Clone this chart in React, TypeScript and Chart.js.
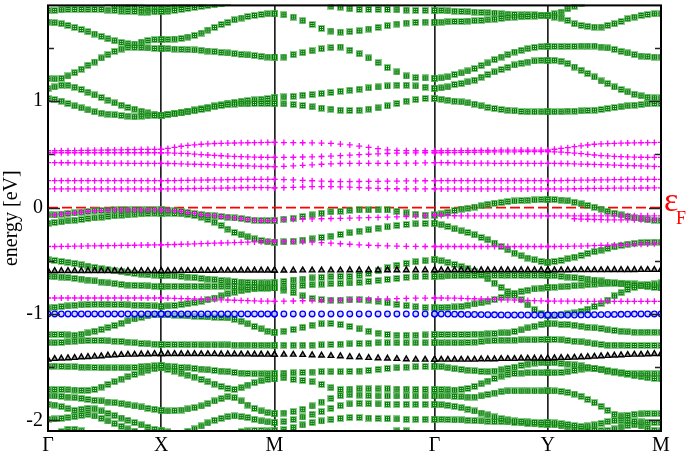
import React, { useEffect, useRef } from 'react';
import { Chart, registerables } from 'chart.js';

Chart.register(...registerables);

// ---- k-path (high-symmetry points) ----
const kTicks = [0, 1, 2, 3.414, 4.414, 5.414];
const kLabels = ['Γ', 'X', 'M', 'Γ', 'Y', 'M'];
const POINTS_PER_SEGMENT = 18;
const yTickValues = [-2, -1, 0, 1];
const yMinorValues = [-1.5, -0.5, 0.5, 1.5];
const _ = null;

// Each band: 5 segments (Γ-X, X-M, M-Γ, Γ-Y, Y-M) x 18 k-points, energies in eV.
// ---- green bands ----
const U1 = [
  1.025, 1.015, 1.0, 0.978, 0.956, 0.937, 0.918, 0.9, 0.887, 0.878, 0.872, 0.865, 0.859, 0.853, 0.859, 0.862, 0.865, 0.868,
  0.868, 0.875, 0.881, 0.89, 0.9, 0.909, 0.922, 0.934, 0.947, 0.959, 0.968, 0.972, 0.975, 0.975, 0.978, 0.978, 0.978, 0.978,
  0.978, 0.975, 0.968, 0.959, 0.947, 0.934, 0.925, 0.915, 0.912, 0.915, 0.925, 0.937, 0.956, 0.978, 1.0, 1.015, 1.025, 1.025,
  1.025, 1.018, 1.009, 1.0, 0.993, 0.984, 0.972, 0.956, 0.94, 0.931, 0.922, 0.915, 0.909, 0.903, 0.9, 0.9, 0.9, 0.9,
  0.9, 0.9, 0.9, 0.906, 0.906, 0.909, 0.912, 0.915, 0.922, 0.931, 0.94, 0.947, 0.956, 0.962, 0.968, 0.975, 0.978, 0.978,
];
const U2 = [
  1.118, 1.134, 1.15, 1.15, 1.131, 1.109, 1.084, 1.059, 1.034, 1.009, 0.984, 0.962, 0.94, 0.925, 0.906, 0.89, 0.878, 0.868,
  0.868, 0.878, 0.887, 0.897, 0.906, 0.919, 0.931, 0.943, 0.956, 0.968, 0.981, 0.99, 1.0, 1.006, 1.012, 1.018, 1.025, 1.031,
  1.031, 1.04, 1.046, 1.056, 1.062, 1.071, 1.081, 1.093, 1.103, 1.112, 1.125, 1.134, 1.143, 1.15, 1.15, 1.143, 1.131, 1.121,
  1.121, 1.125, 1.134, 1.156, 1.165, 1.181, 1.197, 1.225, 1.25, 1.275, 1.297, 1.318, 1.34, 1.356, 1.368, 1.378, 1.384, 1.384,
  1.384, 1.384, 1.375, 1.353, 1.321, 1.29, 1.259, 1.228, 1.19, 1.165, 1.134, 1.109, 1.087, 1.065, 1.05, 1.037, 1.031, 1.031,
];
const U3 = [
  1.212, 1.209, 1.215, 1.237, 1.268, 1.3, 1.337, 1.368, 1.406, 1.437, 1.468, 1.49, 1.506, 1.506, 1.503, 1.5, 1.496, 1.493,
  1.493, 1.493, 1.49, 1.487, 1.484, 1.481, 1.478, 1.471, 1.465, 1.459, 1.453, 1.446, 1.44, 1.434, 1.428, 1.421, 1.415, 1.415,
  1.415, 1.415, 1.437, 1.456, 1.474, 1.493, 1.503, 1.509, 1.478, 1.446, 1.406, 1.362, 1.315, 1.275, 1.237, 1.221, 1.218, 1.215,
  1.215, 1.218, 1.228, 1.25, 1.265, 1.284, 1.306, 1.334, 1.359, 1.39, 1.415, 1.437, 1.462, 1.478, 1.493, 1.506, 1.512, 1.515,
  1.515, 1.515, 1.515, 1.515, 1.515, 1.518, 1.518, 1.518, 1.509, 1.5, 1.487, 1.468, 1.453, 1.437, 1.424, 1.418, 1.415, 1.415,
];
const U4 = [
  1.743, 1.737, 1.728, 1.712, 1.693, 1.674, 1.653, 1.631, 1.609, 1.587, 1.568, 1.553, 1.54, 1.537, 1.556, 1.571, 1.578, 1.581,
  1.581, 1.581, 1.584, 1.59, 1.603, 1.618, 1.64, 1.668, 1.693, 1.721, 1.74, 1.765, 1.781, 1.796, 1.806, 1.815, 1.821, 1.821,
  1.821, 1.812, 1.79, 1.756, 1.721, 1.684, 1.659, 1.649, 1.653, 1.662, 1.678, 1.693, 1.709, 1.725, 1.734, 1.74, 1.743, 1.743,
  1.743, 1.743, 1.746, 1.749, 1.749, 1.753, 1.756, 1.759, 1.765, 1.771, 1.778, 1.784, 1.79, 1.793, 1.796, 1.799, 1.803, 1.803,
  1.803, 1.79, 1.781, 1.759, 1.728, 1.712, 1.703, 1.696, 1.696, 1.712, 1.728, 1.749, 1.775, 1.79, 1.806, 1.815, 1.821, 1.821,
];
const U5 = [
  1.853, 1.853, 1.859, 1.862, 1.862, 1.862, 1.862, 1.862, 1.862, 1.856, 1.853, 1.846, 1.843, 1.843, 1.837, 1.837, 1.84, 1.843,
  1.843, 1.846, 1.853, 1.862, 1.871, 1.881, 1.89, 1.899, 1.906, 1.915, 1.924, _, _, _, _, _, _, _,
  _, _, _, _, _, _, 1.893, 1.884, 1.868, 1.862, 1.862, 1.862, 1.862, 1.859, 1.856, 1.853, 1.853, 1.853,
  1.853, 1.853, 1.849, 1.846, 1.843, 1.84, 1.837, 1.834, 1.831, 1.828, 1.821, 1.818, 1.815, 1.812, 1.812, 1.812, 1.809, 1.809,
  1.809, 1.821, 1.837, 1.868, 1.893, 1.915,
];
const U6 = [
  _, _, _, _, _, _, _, _, _, 1.925, 1.9, 1.896, 1.892, 1.887, 1.88, 1.874, 1.869, 1.866,
  1.866, 1.87, 1.885, 1.905, 1.925,
];
const G1 = [
  -0.069, -0.069, -0.062, -0.056, -0.05, -0.044, -0.037, -0.031, -0.028, -0.025, -0.022, -0.022, -0.022, -0.022, -0.022, -0.022, -0.022, -0.022,
  -0.022, -0.025, -0.031, -0.037, -0.047, -0.056, -0.066, -0.072, -0.078, -0.084, -0.09, -0.097, -0.103, -0.112, -0.119, -0.122, -0.122, -0.122,
  -0.122, -0.109, -0.1, -0.084, -0.069, -0.053, -0.04, -0.035, -0.025, -0.022, -0.022, -0.022, -0.022, -0.035, -0.05, -0.062, -0.072, -0.075,
  -0.069, -0.06, -0.045, -0.028, -0.014, -0.006, 0.005, 0.016, 0.031, 0.041, 0.047, 0.056, 0.062, 0.066, 0.069, 0.072, 0.075, 0.075,
  0.075, 0.075, 0.07, 0.063, 0.05, 0.035, 0.019, 0.003, -0.014, -0.035, -0.053, -0.069, -0.084, -0.097, -0.106, -0.114, -0.119, -0.122,
];
const G2 = [
  -0.147, -0.141, -0.134, -0.125, -0.119, -0.112, -0.103, -0.097, -0.09, -0.084, -0.078, -0.072, -0.069, -0.062, -0.059, -0.056, -0.053, -0.053,
  -0.053, -0.053, -0.056, -0.059, -0.066, -0.075, -0.09, -0.112, -0.137, -0.169, -0.203, -0.234, -0.256, -0.275, -0.294, -0.309, -0.322, -0.325,
  -0.325, -0.322, -0.316, -0.306, -0.294, -0.281, -0.269, -0.253, -0.237, -0.222, -0.209, -0.194, -0.181, -0.169, -0.159, -0.153, -0.15, -0.147,
  -0.147, -0.162, -0.178, -0.2, -0.219, -0.234, -0.256, -0.281, -0.303, -0.334, -0.366, -0.397, -0.428, -0.453, -0.475, -0.491, -0.506, -0.512,
  -0.512, -0.506, -0.497, -0.481, -0.466, -0.45, -0.431, -0.415, -0.4, -0.384, -0.369, -0.356, -0.344, -0.336, -0.33, -0.327, -0.325, -0.325,
];
const G3 = [
  -0.49, -0.497, -0.506, -0.515, -0.525, -0.537, -0.55, -0.562, -0.575, -0.584, -0.594, -0.603, -0.612, -0.619, -0.625, -0.631, -0.634, -0.637,
  -0.637, -0.64, -0.643, -0.647, -0.653, -0.659, -0.665, -0.672, -0.678, -0.684, -0.69, -0.695, -0.7, -0.703, -0.706, -0.708, -0.709, -0.709,
  -0.709, -0.694, -0.681, -0.672, -0.662, -0.656, -0.65, -0.647, -0.647, -0.637, -0.619, -0.594, -0.565, -0.543, -0.525, -0.509, -0.5, -0.49,
  -0.49, -0.5, -0.515, -0.535, -0.555, -0.575, -0.6, -0.63, -0.67, -0.71, -0.75, -0.79, -0.825, -0.865, -0.915, -0.96, -0.995, -1.012,
  -1.012, -1.01, -1.006, -1.0, -0.99, -0.975, -0.955, -0.93, -0.9, -0.87, -0.83, -0.8, -0.77, -0.75, -0.735, -0.725, -0.718, -0.709,
];
const G4 = [
  -0.647, -0.65, -0.653, -0.659, -0.665, -0.672, -0.681, -0.69, -0.7, -0.709, -0.715, -0.722, -0.728, -0.731, -0.734, -0.737, -0.74, -0.74,
  -0.74, -0.74, -0.74, -0.74, -0.74, -0.74, -0.74, -0.74, -0.74, -0.74, -0.74, -0.743, -0.747, -0.75, -0.753, -0.756, -0.756, -0.756,
  -0.756, -0.747, -0.74, -0.731, -0.725, -0.719, -0.715, -0.712, -0.709, -0.703, -0.694, -0.684, -0.675, -0.666, -0.656, -0.65, -0.647, -0.647,
  -0.647, -0.645, -0.643, -0.641, -0.64, -0.639, -0.638, -0.637, -0.637, -0.637, -0.637, -0.637, -0.637, -0.637, -0.637, -0.637, -0.637, -0.637,
  -0.637, -0.64, -0.647, -0.653, -0.659, -0.665, -0.672, -0.681, -0.69, -0.7, -0.709, -0.718, -0.725, -0.731, -0.737, -0.744, -0.75, -0.756,
];
const G6 = [
  -0.943, -0.937, -0.931, -0.925, -0.918, -0.915, -0.912, -0.909, -0.909, -0.909, -0.912, -0.912, -0.915, -0.918, -0.918, -0.922, -0.925, -0.928,
  -0.928, -0.925, -0.92, -0.912, -0.903, -0.893, -0.88, -0.866, -0.85, -0.83, -0.81, -0.795, -0.782, -0.772, -0.765, -0.76, -0.757, -0.756,
  -0.756, -0.775, -0.8, -0.83, -0.855, -0.865, -0.87, -0.87, -0.868, -0.866, -0.87, -0.88, -0.895, -0.91, -0.922, -0.932, -0.94, -0.943,
  -0.943, -0.94, -0.937, -0.934, -0.928, -0.918, -0.906, -0.895, -0.88, -0.865, -0.845, -0.825, -0.805, -0.79, -0.777, -0.765, -0.757, -0.75,
  -0.75, -0.748, -0.745, -0.74, -0.735, -0.73, -0.725, -0.72, -0.718, -0.715, -0.712, -0.712, -0.714, -0.718, -0.725, -0.735, -0.745, -0.756,
];
const G7 = [
  -1.193, -1.193, -1.193, -1.197, -1.2, -1.19, -1.178, -1.162, -1.147, -1.128, -1.109, -1.087, -1.065, -1.047, -1.031, -1.018, -1.009, -1.006,
  -1.006, -1.009, -1.012, -1.015, -1.018, -1.022, -1.025, -1.028, -1.031, -1.034, -1.037, -1.05, -1.068, -1.093, -1.118, -1.14, -1.162, -1.171,
  -1.171, -1.162, -1.147, -1.125, -1.106, -1.093, -1.09, -1.1, -1.118, -1.14, -1.162, -1.181, -1.193, -1.2, -1.2, -1.2, -1.197, -1.193,
  -1.193, -1.193, -1.193, -1.193, -1.193, -1.193, -1.19, -1.19, -1.187, -1.184, -1.178, -1.178, -1.165, -1.15, -1.131, -1.115, -1.1, -1.093,
  -1.093, -1.093, -1.1, -1.1, -1.106, -1.115, -1.125, -1.131, -1.137, -1.15, -1.156, -1.162, -1.168, -1.171, -1.171, -1.171, -1.171, -1.171,
];
const G8 = [
  -1.271, -1.271, -1.268, -1.262, -1.256, -1.253, -1.25, -1.25, -1.25, -1.253, -1.256, -1.259, -1.265, -1.271, -1.278, -1.281, -1.284, -1.287,
  -1.287, -1.287, -1.288, -1.288, -1.289, -1.289, -1.29, -1.29, -1.29, -1.291, -1.291, -1.292, -1.292, -1.292, -1.293, -1.293, -1.293, -1.293,
  -1.293, -1.293, -1.293, -1.293, -1.293, -1.29, -1.287, -1.284, -1.281, -1.278, -1.275, -1.271, -1.271, -1.271, -1.271, -1.271, -1.271, -1.271,
  -1.271, -1.271, -1.271, -1.271, -1.271, -1.268, -1.265, -1.259, -1.253, -1.25, -1.246, -1.246, -1.246, -1.243, -1.243, -1.243, -1.24, -1.24,
  -1.24, -1.24, -1.243, -1.25, -1.256, -1.262, -1.271, -1.281, -1.287, -1.293, -1.293, -1.293, -1.296, -1.296, -1.296, -1.296, -1.296, -1.296,
];
const G9 = [
  -1.49, -1.49, -1.493, -1.496, -1.496, -1.5, -1.5, -1.503, -1.506, -1.506, -1.506, -1.506, -1.506, -1.503, -1.496, -1.49, -1.487, -1.484,
  -1.484, -1.49, -1.496, -1.503, -1.506, -1.512, -1.518, -1.525, -1.531, -1.537, -1.543, -1.55, -1.556, -1.559, -1.562, -1.562, -1.562, -1.562,
  -1.562, -1.556, -1.553, -1.55, -1.546, -1.543, -1.543, -1.543, -1.54, -1.537, -1.531, -1.521, -1.512, -1.506, -1.5, -1.496, -1.493, -1.49,
  -1.49, -1.496, -1.506, -1.515, -1.521, -1.528, -1.534, -1.54, -1.543, -1.537, -1.525, -1.512, -1.5, -1.484, -1.471, -1.462, -1.459, -1.459,
  -1.459, -1.459, -1.465, -1.471, -1.478, -1.487, -1.5, -1.512, -1.525, -1.537, -1.546, -1.553, -1.559, -1.562, -1.562, -1.562, -1.562, -1.562,
];
const G10 = [
  -1.709, -1.709, -1.709, -1.712, -1.715, -1.718, -1.718, -1.709, -1.687, -1.662, -1.637, -1.612, -1.59, -1.568, -1.546, -1.528, -1.515, -1.506,
  -1.506, -1.521, -1.537, -1.556, -1.575, -1.593, -1.615, -1.637, -1.659, -1.681, -1.7, -1.709, -1.693, -1.668, -1.646, -1.628, -1.615, -1.609,
  -1.609, -1.6, -1.615, -1.625, -1.637, -1.662, -1.693, -1.709, -1.706, -1.703, -1.703, -1.703, -1.703, -1.706, -1.706, -1.709, -1.709, -1.709,
  -1.709, -1.709, -1.712, -1.715, -1.709, -1.7, -1.681, -1.656, -1.631, -1.606, -1.584, -1.568, -1.559, -1.556, -1.553, -1.553, -1.553, -1.553,
  -1.553, -1.553, -1.55, -1.543, -1.531, -1.518, -1.512, -1.515, -1.521, -1.531, -1.543, -1.556, -1.568, -1.581, -1.59, -1.6, -1.606, -1.609,
];
const G11 = [
  -1.771, -1.771, -1.774, -1.781, -1.787, -1.793, -1.803, -1.812, -1.818, -1.828, -1.834, -1.843, -1.853, -1.865, -1.874, -1.887, -1.896, -1.906,
  -1.906, -1.912, -1.909, -1.903, -1.893, -1.881, -1.865, -1.843, -1.818, -1.796, -1.778, -1.787, -1.818, -1.856, -1.887, -1.912, -1.928, -1.937,
  -1.937, -1.931, -1.918, -1.896, -1.865, -1.828, -1.793, -1.768, -1.759, -1.762, -1.768, -1.771, -1.771, -1.771, -1.771, -1.771, -1.771, -1.771,
  -1.771, -1.771, -1.771, -1.774, -1.778, -1.781, -1.781, -1.771, -1.756, -1.743, -1.731, -1.724, -1.724, -1.724, -1.724, -1.724, -1.724, -1.724,
  -1.724, -1.724, -1.728, -1.737, -1.753, -1.774, -1.803, -1.834, -1.868, -1.906, -1.943, -1.959, -1.953, -1.943, -1.94, -1.937, -1.937, -1.937,
];
const G12 = [
  -1.849, -1.856, -1.871, -1.89, -1.906, -1.896, -1.887, -1.893, -1.912, -1.934, -1.956, -1.978, -1.999, -2.021, -2.043, -2.065, -2.084, -2.099,
  -2.099, -2.109, _, _, -2.102, -2.081, -2.053, -2.024, -1.999, -1.981, -1.965, -1.959, -1.965, -1.974, -1.99, -2.006, -2.015, -2.021,
  -2.021, -2.012, -1.993, -1.968, -1.943, -1.918, -1.887, -1.862, -1.846, -1.84, -1.843, -1.846, -1.849, -1.849, -1.849, -1.849, -1.849, -1.849,
  -1.849, -1.853, -1.859, -1.868, -1.881, -1.896, -1.912, -1.931, -1.949, -1.968, -1.984, -1.996, -2.006, -2.012, -2.015, -2.018, -2.021, -2.021,
  -2.021, -2.024, -2.031, -2.04, -2.049, -2.056, -2.053, -2.043, -2.028, -2.012, -2.003, -1.999, -2.003, -2.009, -2.015, -2.018, -2.021, -2.021,
];
const G13 = [
  -1.99, -1.987, -1.981, -1.974, -1.965, -1.953, -1.943, -1.959, -1.981, -2.006, -2.031, -2.056, -2.081, -2.102, _, _, _, _,
  _, _, _, _, _, _, _, _, _, _, _, _, -2.106, -2.099, -2.096, -2.096, -2.099, -2.099,
  -2.099, -2.087, -2.068, -2.043, -2.021, -2.006, -1.993, -1.981, -1.974, -1.974, -1.978, -1.981, -1.984, -1.987, -1.99, -1.99, -1.99, -1.99,
  -1.99, -1.99, -1.993, -1.996, -1.996, -1.999, -2.003, -2.006, -2.009, -2.012, -2.012, -2.015, -2.021, -2.024, -2.031, -2.034, -2.037, -2.037,
  -2.037, -2.043, -2.053, -2.062, -2.071, -2.081, -2.087, -2.093, -2.096, -2.096, -2.081, -2.062, -2.049, -2.043, -2.053, -2.074, -2.093, -2.099,
];
const G14 = [
  _, _, -2.106, -2.084, -2.084, -2.099, _, _, _, _, _, _, _, _, _, _, _, _,
  _, _, _, _, _, _, _, _, _, _, _, _, _, _, _, _, _, _,
  _, _, _, _, _, _, _, _, _, _, _, _, _, -2.099, -2.099,
];

// ---- magenta bands ----
const M1 = [
  0.175, 0.175, 0.175, 0.175, 0.175, 0.175, 0.175, 0.175, 0.175, 0.175, 0.175, 0.175, 0.175, 0.175, 0.175, 0.175, 0.175, 0.175,
  0.175, 0.175, 0.176, 0.177, 0.178, 0.179, 0.18, 0.181, 0.182, 0.183, 0.184, 0.185, 0.186, 0.187, 0.188, 0.188, 0.187, 0.185,
  0.185, 0.187, 0.19, 0.193, 0.196, 0.197, 0.197, 0.195, 0.192, 0.188, 0.184, 0.181, 0.178, 0.177, 0.176, 0.175, 0.175, 0.175,
  0.175, 0.175, 0.175, 0.175, 0.175, 0.175, 0.175, 0.175, 0.175, 0.175, 0.175, 0.175, 0.175, 0.175, 0.175, 0.175, 0.175, 0.175,
  0.175, 0.175, 0.175, 0.176, 0.177, 0.178, 0.179, 0.18, 0.181, 0.181, 0.182, 0.182, 0.183, 0.183, 0.184, 0.184, 0.185, 0.185,
];
const M2 = [
  0.253, 0.253, 0.253, 0.253, 0.253, 0.253, 0.253, 0.253, 0.253, 0.253, 0.253, 0.253, 0.253, 0.253, 0.253, 0.253, 0.253, 0.253,
  0.253, 0.253, 0.254, 0.255, 0.256, 0.257, 0.258, 0.259, 0.26, 0.261, 0.262, 0.263, 0.264, 0.265, 0.265, 0.265, 0.265, 0.265,
  0.265, 0.263, 0.26, 0.256, 0.252, 0.248, 0.245, 0.244, 0.244, 0.245, 0.246, 0.247, 0.248, 0.249, 0.25, 0.251, 0.252, 0.253,
  0.253, 0.253, 0.253, 0.253, 0.253, 0.253, 0.253, 0.253, 0.253, 0.253, 0.253, 0.253, 0.253, 0.253, 0.253, 0.253, 0.253, 0.253,
  0.253, 0.253, 0.254, 0.255, 0.256, 0.257, 0.258, 0.259, 0.26, 0.261, 0.262, 0.263, 0.264, 0.265, 0.265, 0.265, 0.265, 0.265,
];
const M3 = [
  0.422, 0.422, 0.421, 0.421, 0.42, 0.42, 0.419, 0.419, 0.418, 0.418, 0.417, 0.417, 0.416, 0.416, 0.415, 0.415, 0.415, 0.415,
  0.415, 0.414, 0.413, 0.411, 0.409, 0.407, 0.405, 0.403, 0.401, 0.399, 0.397, 0.395, 0.393, 0.391, 0.389, 0.387, 0.386, 0.385,
  0.385, 0.388, 0.392, 0.397, 0.402, 0.407, 0.411, 0.414, 0.415, 0.416, 0.416, 0.416, 0.416, 0.416, 0.417, 0.418, 0.42, 0.422,
  0.422, 0.422, 0.421, 0.42, 0.419, 0.418, 0.418, 0.417, 0.417, 0.416, 0.416, 0.416, 0.416, 0.416, 0.415, 0.415, 0.415, 0.415,
  0.415, 0.415, 0.414, 0.413, 0.411, 0.409, 0.407, 0.405, 0.403, 0.401, 0.399, 0.397, 0.395, 0.393, 0.391, 0.389, 0.387, 0.385,
];
const M4 = [
  0.515, 0.515, 0.515, 0.515, 0.515, 0.515, 0.515, 0.515, 0.515, 0.515, 0.515, 0.515, 0.515, 0.515, 0.515, 0.515, 0.515, 0.515,
  0.515, 0.514, 0.512, 0.509, 0.506, 0.502, 0.498, 0.494, 0.49, 0.487, 0.484, 0.481, 0.478, 0.476, 0.474, 0.473, 0.472, 0.472,
  0.472, 0.472, 0.473, 0.475, 0.477, 0.48, 0.484, 0.488, 0.492, 0.497, 0.501, 0.505, 0.508, 0.511, 0.513, 0.514, 0.515, 0.515,
  0.515, 0.515, 0.516, 0.517, 0.518, 0.519, 0.52, 0.521, 0.522, 0.523, 0.523, 0.524, 0.524, 0.525, 0.525, 0.525, 0.525, 0.525,
  0.525, 0.524, 0.521, 0.517, 0.512, 0.506, 0.5, 0.494, 0.489, 0.485, 0.481, 0.478, 0.476, 0.474, 0.473, 0.472, 0.472, 0.472,
];
const M5 = [
  0.534, 0.534, 0.535, 0.535, 0.536, 0.537, 0.538, 0.539, 0.54, 0.541, 0.542, 0.543, 0.544, 0.545, 0.546, 0.547, 0.547, 0.547,
  0.547, 0.556, 0.566, 0.576, 0.584, 0.59, 0.595, 0.599, 0.602, 0.604, 0.606, 0.607, 0.608, 0.609, 0.61, 0.611, 0.612, 0.612,
  0.612, 0.611, 0.61, 0.609, 0.608, 0.606, 0.603, 0.597, 0.589, 0.578, 0.565, 0.553, 0.543, 0.537, 0.535, 0.534, 0.534, 0.534,
  0.534, 0.534, 0.535, 0.535, 0.536, 0.536, 0.537, 0.537, 0.538, 0.538, 0.539, 0.539, 0.54, 0.54, 0.54, 0.54, 0.54, 0.54,
  0.54, 0.548, 0.556, 0.563, 0.572, 0.58, 0.588, 0.595, 0.598, 0.601, 0.603, 0.605, 0.607, 0.608, 0.609, 0.61, 0.611, 0.612,
];
const MN1 = [
  -0.069, -0.069, -0.062, -0.056, -0.05, -0.044, -0.037, -0.031, -0.028, -0.025, -0.022, -0.022, -0.022, -0.022, -0.022, -0.022, -0.022, -0.022,
  -0.022, -0.025, -0.031, -0.037, -0.047, -0.056, -0.066, -0.072, -0.078, -0.084, -0.09, -0.097, -0.103, -0.112, -0.119, -0.122, -0.122, -0.122,
  -0.115, -0.113, -0.111, -0.109, -0.107, -0.105, -0.103, -0.101, -0.099, -0.097, -0.095, -0.093, -0.09, -0.087, -0.084, -0.08, -0.076, -0.072,
  -0.072, -0.074, -0.076, -0.077, -0.078, -0.078, -0.078, -0.078, -0.078, -0.078, -0.078, -0.078, -0.078, -0.078, -0.078, -0.078, -0.078, -0.078,
  -0.078, -0.078, -0.078, -0.078, -0.078, -0.078, -0.078, -0.078, -0.078, -0.078, -0.078, -0.078, -0.078, -0.078, -0.078, -0.078, -0.078, -0.078,
];
const MN2 = [
  _, _, _, _, _, _, _, _, _, _, _, _, _, _, _, _, _, _,
  _, _, _, _, _, _, _, _, _, _, _, _, _, _, _, _, _, _,
  _, _, _, _, _, _, _, _, _, _, _, _, _, _, _, _, _, _,
  _, _, _, _, _, _, _, _, _, _, _, _, _, _, _, _, _, _,
  _, _, _, _, -0.105, -0.108, -0.11, -0.112, -0.114, -0.115, -0.115, -0.115, -0.115, -0.115, -0.115, -0.115, -0.115, -0.115,
];
const MN3 = [
  -0.366, -0.366, -0.365, -0.364, -0.363, -0.362, -0.361, -0.36, -0.359, -0.358, -0.357, -0.356, -0.355, -0.354, -0.353, -0.352, -0.351, -0.35,
  -0.35, -0.349, -0.347, -0.345, -0.343, -0.341, -0.339, -0.337, -0.335, -0.333, -0.331, -0.329, -0.327, -0.325, -0.323, -0.321, -0.32, -0.319,
  -0.319, -0.319, -0.32, -0.322, -0.325, -0.33, -0.335, -0.34, -0.345, -0.35, -0.354, -0.357, -0.36, -0.362, -0.364, -0.365, -0.366, -0.366,
  -0.366, -0.366, -0.366, -0.366, -0.366, -0.366, -0.366, -0.366, -0.366, -0.366, -0.366, -0.366, -0.366, -0.366, -0.366, -0.366, -0.366, -0.366,
  -0.366, -0.366, -0.365, -0.364, -0.363, -0.362, -0.36, -0.358, -0.356, -0.354, -0.352, -0.35, -0.348, -0.346, -0.344, -0.342, -0.34, -0.338,
];
const MN4 = [
  -0.85, -0.85, -0.85, -0.85, -0.85, -0.85, -0.85, -0.85, -0.85, -0.85, -0.85, -0.85, -0.85, -0.85, -0.85, -0.85, -0.85, -0.85,
  -0.85, -0.851, -0.853, -0.855, -0.857, -0.859, -0.861, -0.863, -0.865, -0.867, -0.869, -0.871, -0.873, -0.875, -0.877, -0.879, -0.88, -0.881,
  -0.881, -0.88, -0.878, -0.876, -0.874, -0.872, -0.87, -0.868, -0.866, -0.864, -0.862, -0.86, -0.858, -0.856, -0.854, -0.852, -0.851, -0.85,
  -0.85, -0.85, -0.851, -0.852, -0.853, -0.855, -0.857, -0.859, -0.861, -0.863, -0.865, -0.867, -0.869, -0.871, -0.873, -0.875, -0.877, -0.879,
  -0.879, -0.879, -0.88, -0.88, -0.88, -0.881, -0.881, -0.881, -0.881, -0.881, -0.881, -0.881, -0.881, -0.881, -0.881, -0.881, -0.881, -0.881,
];

// ---- black triangle bands ----
const T1 = [
  -0.595, -0.595, -0.595, -0.595, -0.595, -0.595, -0.595, -0.595, -0.595, -0.595, -0.595, -0.595, -0.595, -0.595, -0.595, -0.595, -0.595, -0.595,
  -0.595, -0.595, -0.595, -0.594, -0.594, -0.594, -0.593, -0.593, -0.593, -0.592, -0.592, -0.592, -0.591, -0.591, -0.59, -0.59, -0.59, -0.59,
  -0.59, -0.59, -0.59, -0.589, -0.589, -0.589, -0.589, -0.589, -0.588, -0.588, -0.588, -0.588, -0.588, -0.588, -0.588, -0.588, -0.588, -0.588,
  -0.588, -0.588, -0.588, -0.588, -0.588, -0.588, -0.588, -0.588, -0.588, -0.588, -0.588, -0.588, -0.588, -0.588, -0.588, -0.588, -0.588, -0.588,
  -0.588, -0.588, -0.588, -0.588, -0.587, -0.587, -0.587, -0.587, -0.587, -0.586, -0.586, -0.586, -0.586, -0.586, -0.585, -0.585, -0.585, -0.585,
];
const T2 = [
  -1.428, -1.421, -1.418, -1.415, -1.412, -1.406, -1.403, -1.4, -1.396, -1.39, -1.387, -1.384, -1.381, -1.381, -1.378, -1.378, -1.375, -1.375,
  -1.375, -1.375, -1.375, -1.376, -1.376, -1.376, -1.377, -1.377, -1.377, -1.378, -1.378, -1.378, -1.379, -1.379, -1.38, -1.38, -1.381, -1.381,
  -1.381, -1.381, -1.381, -1.384, -1.387, -1.39, -1.393, -1.396, -1.403, -1.406, -1.412, -1.415, -1.418, -1.421, -1.425, -1.428, -1.428, -1.428,
  -1.428, -1.428, -1.428, -1.428, -1.428, -1.428, -1.428, -1.425, -1.425, -1.425, -1.421, -1.421, -1.421, -1.418, -1.418, -1.418, -1.418, -1.418,
  -1.418, -1.415, -1.412, -1.412, -1.409, -1.406, -1.403, -1.4, -1.396, -1.393, -1.39, -1.387, -1.384, -1.381, -1.381, -1.378, -1.375, -1.375,
];

// ---- blue circle band ----
const B1 = [
  -1.0, -1.0, -1.0, -1.0, -1.0, -1.0, -1.0, -1.0, -1.0, -1.0, -1.0, -1.0, -1.0, -1.0, -1.0, -1.0, -1.0, -1.0,
  -1.0, -1.0, -1.0, -1.0, -1.0, -1.0, -1.0, -1.0, -1.0, -1.0, -1.0, -1.0, -1.0, -1.0, -1.0, -1.0, -1.0, -1.0,
  -1.0, -1.0, -1.0, -1.0, -1.0, -1.0, -1.0, -1.0, -1.0, -1.0, -1.0, -1.0, -1.0, -1.0, -1.0, -1.0, -1.0, -1.0,
  -1.0, -1.0, -1.001, -1.002, -1.003, -1.004, -1.005, -1.006, -1.007, -1.008, -1.009, -1.01, -1.01, -1.01, -1.01, -1.01, -1.01, -1.01,
  -1.01, -1.01, -1.01, -1.01, -1.01, -1.009, -1.008, -1.007, -1.006, -1.005, -1.004, -1.003, -1.002, -1.001, -1.0, -1.0, -1.0, -1.0,
];

const greenBands = [U1, U2, U3, U4, U5, U6, G1, G2, G3, G4, G6, G7, G8, G9, G10, G11, G12, G13, G14];
const magentaBands = [M1, M2, M3, M4, M5, MN1, MN2, MN3, MN4];
const triangleBands = [T1, T2];
const circleBands = [B1];

const FONT = '"Liberation Serif", "DejaVu Serif", "Times New Roman", serif';

// sampling grid along the k-path (18 points per segment, endpoints included)
const kGrid: number[] = [];
for (let s = 0; s < kTicks.length - 1; s++) {
  for (let i = 0; i < POINTS_PER_SEGMENT; i++) {
    kGrid.push(kTicks[s] + ((kTicks[s + 1] - kTicks[s]) * i) / (POINTS_PER_SEGMENT - 1));
  }
}

function toPoints(band: (number | null)[]) {
  const pts: { x: number; y: number }[] = [];
  band.forEach((e, j) => {
    if (e !== null && e !== undefined) pts.push({ x: kGrid[j], y: e });
  });
  return pts;
}

function makeGreenSquare() {
  const c = document.createElement('canvas');
  c.width = 7;
  c.height = 7;
  const g = c.getContext('2d') as CanvasRenderingContext2D;
  g.fillStyle = 'rgba(60,170,60,0.6)';
  g.fillRect(0, 0, 7, 7);
  g.fillStyle = '#007a00';
  g.fillRect(1, 1, 5, 5);
  g.fillStyle = '#e8f5e8';
  g.fillRect(2, 2, 1, 1);
  g.fillRect(4, 2, 1, 1);
  g.fillRect(2, 4, 1, 1);
  g.fillRect(4, 4, 1, 1);
  return c;
}

const framePlugin = {
  id: 'bandFrame',
  afterDraw(chart: any) {
    const { ctx, chartArea, scales } = chart;
    const { left, right, top, bottom } = chartArea;
    const y = scales.y;
    ctx.save();
    ctx.strokeStyle = '#000';
    ctx.lineWidth = 2;
    ctx.strokeRect(left, top, right - left, bottom - top);
    ctx.lineWidth = 1.5;
    ctx.strokeStyle = '#222';
    const tick = (v: number, len: number) => {
      const py = Math.round(y.getPixelForValue(v)) + 0.5;
      ctx.beginPath();
      ctx.moveTo(left, py);
      ctx.lineTo(left + len, py);
      ctx.moveTo(right, py);
      ctx.lineTo(right - len, py);
      ctx.stroke();
    };
    yTickValues.forEach((v) => tick(v, 12));
    yMinorValues.forEach((v) => tick(v, 6));
    // Fermi level label
    const y0 = y.getPixelForValue(0);
    ctx.fillStyle = '#ff0000';
    ctx.textBaseline = 'alphabetic';
    ctx.textAlign = 'left';
    ctx.font = `34px ${FONT}`;
    ctx.fillText('ε', right + 3, y0 + 3);
    ctx.font = `18px ${FONT}`;
    ctx.fillText('F', right + 15, y0 + 16);
    ctx.restore();
  },
};

export default function App() {
  const canvasRef = useRef<HTMLCanvasElement | null>(null);

  useEffect(() => {
    const canvas = canvasRef.current;
    if (!canvas) return;
    const square = makeGreenSquare();

    const datasets: any[] = [];
    magentaBands.forEach((b) =>
      datasets.push({
        type: 'scatter',
        data: toPoints(b),
        pointStyle: 'cross',
        pointRadius: 3,
        borderColor: '#ff00ff',
        backgroundColor: '#ff00ff',
        pointBorderWidth: 1.3,
        clip: 1,
      })
    );
    triangleBands.forEach((b) =>
      datasets.push({
        type: 'scatter',
        data: toPoints(b),
        pointStyle: 'triangle',
        pointRadius: 3.2,
        borderColor: '#000',
        backgroundColor: '#9a9a9a',
        pointBorderWidth: 1.4,
        clip: 1,
      })
    );
    circleBands.forEach((b) =>
      datasets.push({
        type: 'scatter',
        data: toPoints(b),
        pointStyle: 'circle',
        pointRadius: 2.8,
        borderColor: '#0000ff',
        backgroundColor: 'rgba(200,200,255,0.7)',
        pointBorderWidth: 1.3,
        clip: 1,
      })
    );
    greenBands.forEach((b) =>
      datasets.push({
        type: 'scatter',
        data: toPoints(b),
        pointStyle: square,
        pointRadius: 3.5,
        borderColor: '#008000',
        backgroundColor: '#008000',
        clip: 1,
      })
    );
    datasets.push({
      type: 'line',
      data: [
        { x: kTicks[0], y: 0 },
        { x: kTicks[kTicks.length - 1], y: 0 },
      ],
      borderColor: '#ff0000',
      borderWidth: 1.7,
      borderDash: [10, 4],
      pointRadius: 0,
      fill: false,
    });

    const chart = new Chart(canvas, {
      type: 'scatter',
      data: { datasets },
      options: {
        animation: false,
        responsive: false,
        events: [],
        layout: { padding: { top: 3, right: 27, bottom: 0, left: 0 } },
        plugins: { legend: { display: false }, tooltip: { enabled: false } },
        scales: {
          x: {
            type: 'linear',
            min: kTicks[0],
            max: kTicks[kTicks.length - 1],
            z: 1,
            afterBuildTicks: (s: any) => {
              s.ticks = kTicks.map((v) => ({ value: v }));
            },
            afterFit: (s: any) => {
              s.height = 22;
              s.paddingLeft = 0;
              s.paddingRight = 0;
            },
            ticks: {
              autoSkip: false,
              maxRotation: 0,
              padding: 3,
              color: '#000',
              font: { family: FONT, size: 20 },
              callback: (_v: any, i: number) => kLabels[i],
            },
            grid: { color: '#222', lineWidth: 1.7, drawTicks: false },
            border: { display: false },
          },
          y: {
            type: 'linear',
            min: -2.1,
            max: 1.9,
            afterBuildTicks: (s: any) => {
              s.ticks = yTickValues.map((v) => ({ value: v }));
            },
            afterFit: (s: any) => {
              s.width = 48;
              s.paddingTop = 0;
              s.paddingBottom = 0;
            },
            ticks: {
              padding: 5,
              color: '#000',
              font: { family: FONT, size: 20 },
              callback: (v: any) => String(v),
            },
            grid: { display: false, drawTicks: false },
            border: { display: false },
            title: {
              display: true,
              text: 'energy [eV]',
              color: '#000',
              font: { family: FONT, size: 20 },
              padding: { top: 0, bottom: 0 },
            },
          },
        },
      },
      plugins: [framePlugin],
    });
    return () => chart.destroy();
  }, []);

  return (
    <div style={{ position: 'fixed', left: 0, top: 0, width: 688, height: 453, background: '#fff' }}>
      <canvas ref={canvasRef} width={688} height={453} style={{ display: 'block' }} />
    </div>
  );
}
